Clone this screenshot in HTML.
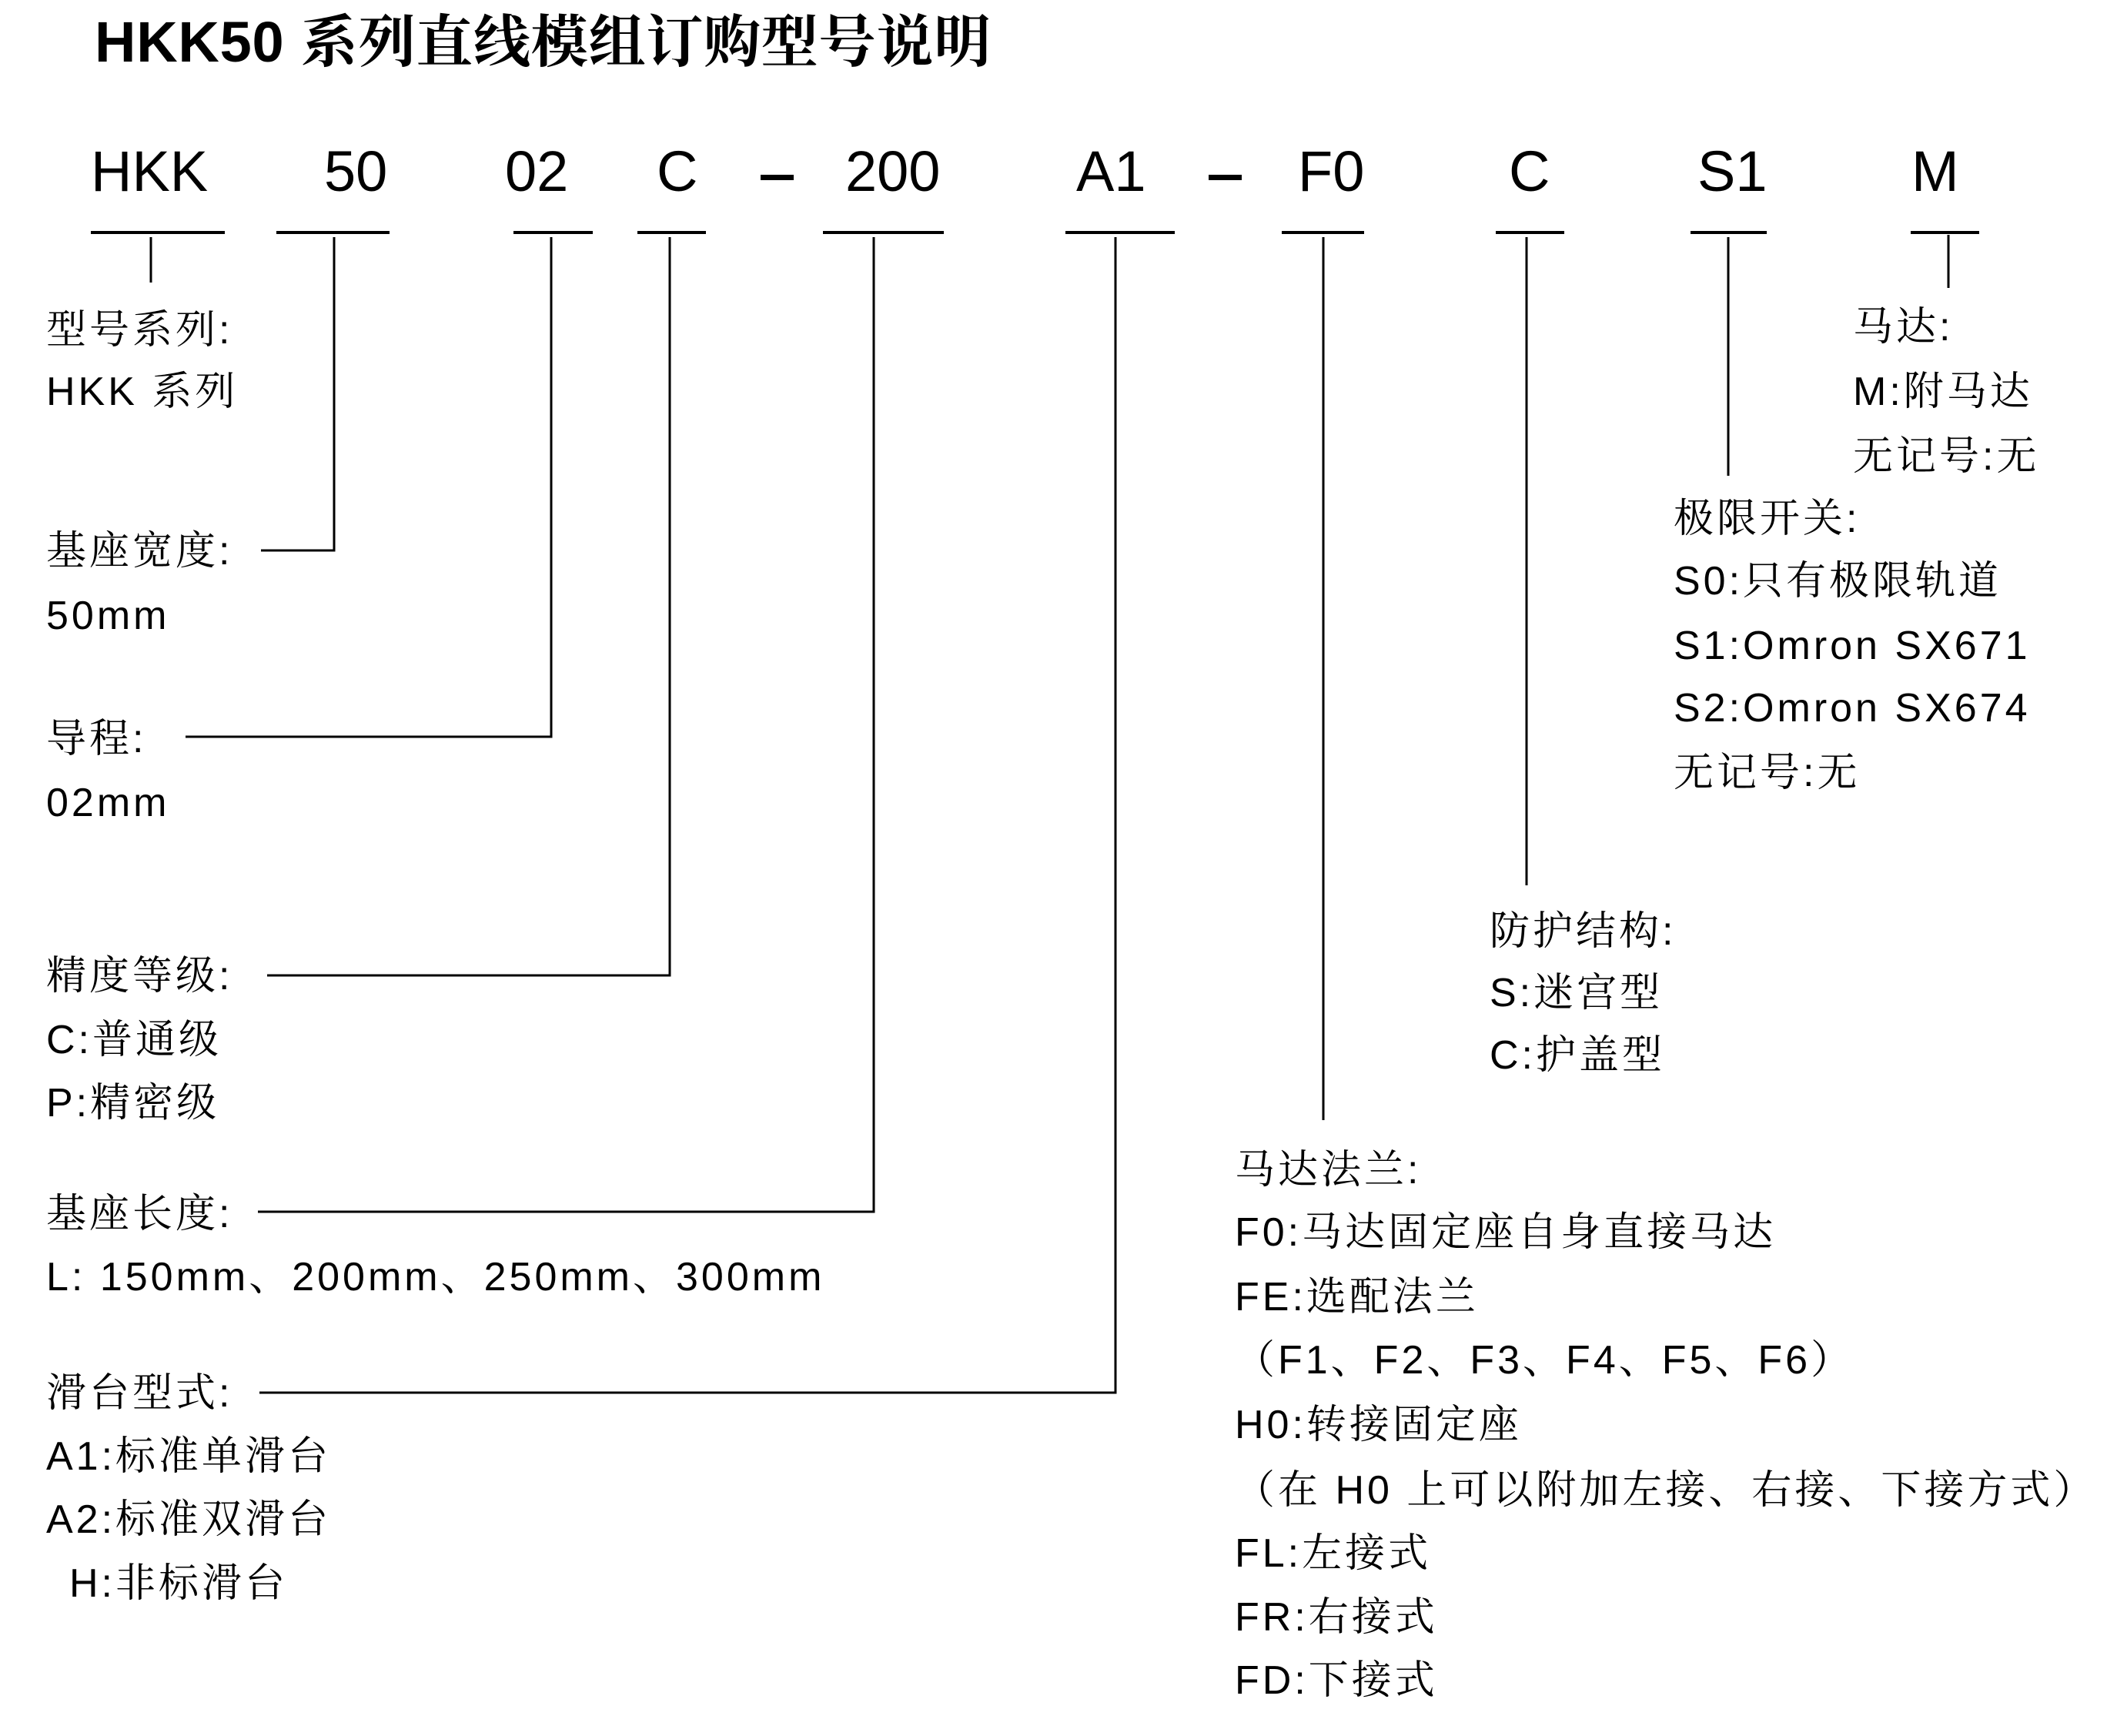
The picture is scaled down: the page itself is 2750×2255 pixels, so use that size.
<!DOCTYPE html>
<html><head><meta charset="utf-8">
<style>
html,body{margin:0;padding:0;background:#fff;}
svg{display:block;}
text{font-family:"Liberation Sans","Noto Serif CJK SC",serif;fill:#000;}
.t{font-size:74px;font-weight:bold;}
.c{font-size:74px;}
.l{font-size:52px;letter-spacing:4px;}
</style></head><body>
<svg width="2750" height="2255" viewBox="0 0 2750 2255" xmlns="http://www.w3.org/2000/svg">
<text class="t" x="123" y="80" textLength="1164" lengthAdjust="spacing">HKK50 系列直线模组订购型号说明</text>

<text class="c" x="118" y="248">HKK</text>
<text class="c" x="421" y="248">50</text>
<text class="c" x="656" y="248">02</text>
<text class="c" x="853" y="248">C</text>
<rect x="988" y="227" width="43" height="7"/>
<text class="c" x="1098" y="248">200</text>
<text class="c" x="1398" y="248">A1</text>
<rect x="1570" y="227" width="43" height="7"/>
<text class="c" x="1686" y="248">F0</text>
<text class="c" x="1960" y="248">C</text>
<text class="c" x="2205" y="248">S1</text>
<text class="c" x="2483" y="248">M</text>

<g stroke="#000" stroke-width="4" fill="none">
<line x1="118" y1="302" x2="292" y2="302"/>
<line x1="359" y1="302" x2="506" y2="302"/>
<line x1="667" y1="302" x2="770" y2="302"/>
<line x1="828" y1="302" x2="917" y2="302"/>
<line x1="1069" y1="302" x2="1226" y2="302"/>
<line x1="1384" y1="302" x2="1526" y2="302"/>
<line x1="1665" y1="302" x2="1772" y2="302"/>
<line x1="1943" y1="302" x2="2032" y2="302"/>
<line x1="2196" y1="302" x2="2295" y2="302"/>
<line x1="2482" y1="302" x2="2571" y2="302"/>
</g>
<g stroke="#000" stroke-width="3" fill="none">
<line x1="196" y1="308" x2="196" y2="367"/>
<polyline points="434,308 434,715 339,715"/>
<polyline points="716,308 716,957 241,957"/>
<polyline points="870,308 870,1267 347,1267"/>
<polyline points="1135,308 1135,1574 335,1574"/>
<polyline points="1449,308 1449,1809 337,1809"/>
<line x1="1719" y1="308" x2="1719" y2="1455"/>
<line x1="1983" y1="308" x2="1983" y2="1150"/>
<line x1="2245" y1="308" x2="2245" y2="618"/>
<line x1="2531" y1="305" x2="2531" y2="374"/>
</g>

<g class="l">
<text x="60" y="446">型号系列:</text>
<text x="60" y="526">HKK 系列</text>
<text x="60" y="733">基座宽度:</text>
<text x="60" y="817">50mm</text>
<text x="60" y="977">导程:</text>
<text x="60" y="1060">02mm</text>
<text x="60" y="1285">精度等级:</text>
<text x="60" y="1368">C:普通级</text>
<text x="60" y="1450">P:精密级</text>
<text x="60" y="1594">基座长度:</text>
<text x="60" y="1676">L: 150mm、200mm、250mm、300mm</text>
<text x="60" y="1827">滑台型式:</text>
<text x="60" y="1909">A1:标准单滑台</text>
<text x="60" y="1991">A2:标准双滑台</text>
<text x="90" y="2074">H:非标滑台</text>

<text x="2407" y="442">马达:</text>
<text x="2407" y="526">M:附马达</text>
<text x="2407" y="610">无记号:无</text>

<text x="2174" y="691">极限开关:</text>
<text x="2174" y="772">S0:只有极限轨道</text>
<text x="2174" y="856">S1:Omron SX671</text>
<text x="2174" y="937">S2:Omron SX674</text>
<text x="2174" y="1021">无记号:无</text>

<text x="1935" y="1227">防护结构:</text>
<text x="1935" y="1307">S:迷宫型</text>
<text x="1935" y="1388">C:护盖型</text>

<text x="1604" y="1537">马达法兰:</text>
<text x="1604" y="1618">F0:马达固定座自身直接马达</text>
<text x="1604" y="1702">FE:选配法兰</text>
<text x="1604" y="1784">（F1、F2、F3、F4、F5、F6）</text>
<text x="1604" y="1868">H0:转接固定座</text>
<text x="1604" y="1953">（在 H0 上可以附加左接、右接、下接方式）</text>
<text x="1604" y="2035">FL:左接式</text>
<text x="1604" y="2118">FR:右接式</text>
<text x="1604" y="2200">FD:下接式</text>
</g>
</svg>
</body></html>
